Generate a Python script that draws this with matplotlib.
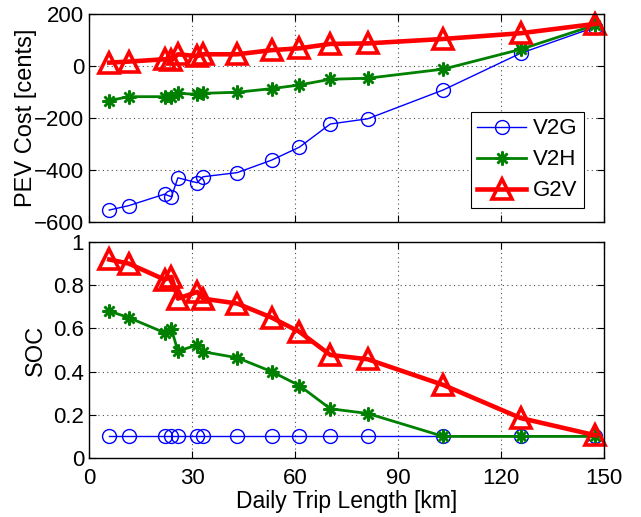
import numpy as np
import matplotlib.pyplot as plt

# Data
tripKm = [5.9, 11.6, 22.0, 24.0, 25.9, 31.5, 33.2, 43.2, 53.2, 61.3,
          70.3, 81.2, 103.2, 125.7, 147.5]

costV2G = [-554, -537, -493, -503, -430, -449, -426, -410, -362, -312,
           -223, -203, -92, 49, 150]
costV2H = [-133, -118, -118, -119, -105, -109, -105, -101, -87, -73,
           -51, -47, -12, 64, 158]
costG2V = [13, 17, 26, 22, 45, 38, 45, 45, 61, 68,
           85, 87, 104, 126, 162]

socV2G = [0.1] * 15
socV2H = [0.68, 0.65, 0.58, 0.597, 0.495, 0.523, 0.492, 0.464, 0.40, 0.335,
          0.228, 0.206, 0.1, 0.1, 0.1]
socG2V = [0.919, 0.90, 0.826, 0.838, 0.738, 0.769, 0.738, 0.715, 0.65, 0.584,
          0.477, 0.457, 0.338, 0.185, 0.105]

labels = ["V2G", "V2H", "G2V"]

#------------------------------------------------------------------------------#

plt.rcParams['font.family'] = ['Liberation Sans', 'DejaVu Sans']

green = (0.0, 0.5, 0.0)
styles = [
    dict(color="blue", lw=1.0, marker="o", ms=10, mfc="none", mew=1.0),
    dict(color=green, lw=2.0, marker=(8, 2, 0), ms=10, mew=1.8),
    dict(color="red", lw=3.3, marker="^", ms=14, mfc="none", mew=2.6),
]

fig = plt.figure(figsize=(6.41, 5.17), dpi=100)
axTop = fig.add_axes([89/641, 1 - 222/517, 515/641, 208/517])
axBot = fig.add_axes([89/641, 1 - 458/517, 515/641, 216/517])

for ys, st, lab in zip([costV2G, costV2H, costG2V], styles, labels):
    axTop.plot(tripKm, ys, label=lab, clip_on=False, **st)

for ys, st, lab in zip([socV2G, socV2H, socG2V], styles, labels):
    axBot.plot(tripKm, ys, label=lab, clip_on=False, **st)

for ax in [axTop, axBot]:
    ax.set_xlim(0, 150)
    ax.set_xticks(np.arange(0, 151, 30))
    ax.grid(True, color="0.3", linestyle=(0, (1, 3)), linewidth=0.8)
    ax.tick_params(direction="in", top=True, right=True, length=5,
                   labelsize=16, width=0.8)
    ax.tick_params(axis="x", pad=7)
    for sp in ax.spines.values():
        sp.set_linewidth(1.0)

axTop.set_ylim(-600, 200)
axTop.set_yticks(np.arange(-600, 201, 200))
axTop.set_xticklabels([])
axTop.set_ylabel("PEV Cost [cents]", fontsize=17)

axBot.set_ylim(0, 1)
axBot.set_yticks(np.arange(0, 1.01, 0.2))
axBot.set_yticklabels(["0", "0.2", "0.4", "0.6", "0.8", "1"])
axBot.set_ylabel("SOC", fontsize=17)
axBot.set_xlabel("Daily Trip Length [km]", fontsize=16.5, labelpad=1)

leg = axTop.legend(loc="lower right", bbox_to_anchor=(0.961, 0.067),
                   fontsize=16, fancybox=False, edgecolor="black",
                   framealpha=1, borderaxespad=0, handlelength=2.2,
                   handletextpad=0.3, borderpad=0.3, labelspacing=0.45)
leg.get_frame().set_linewidth(0.8)

axTop.yaxis.set_label_coords(-0.101, 0.5)
axBot.yaxis.set_label_coords(-0.082, 0.5)

fig.savefig("out.png", dpi=100)
